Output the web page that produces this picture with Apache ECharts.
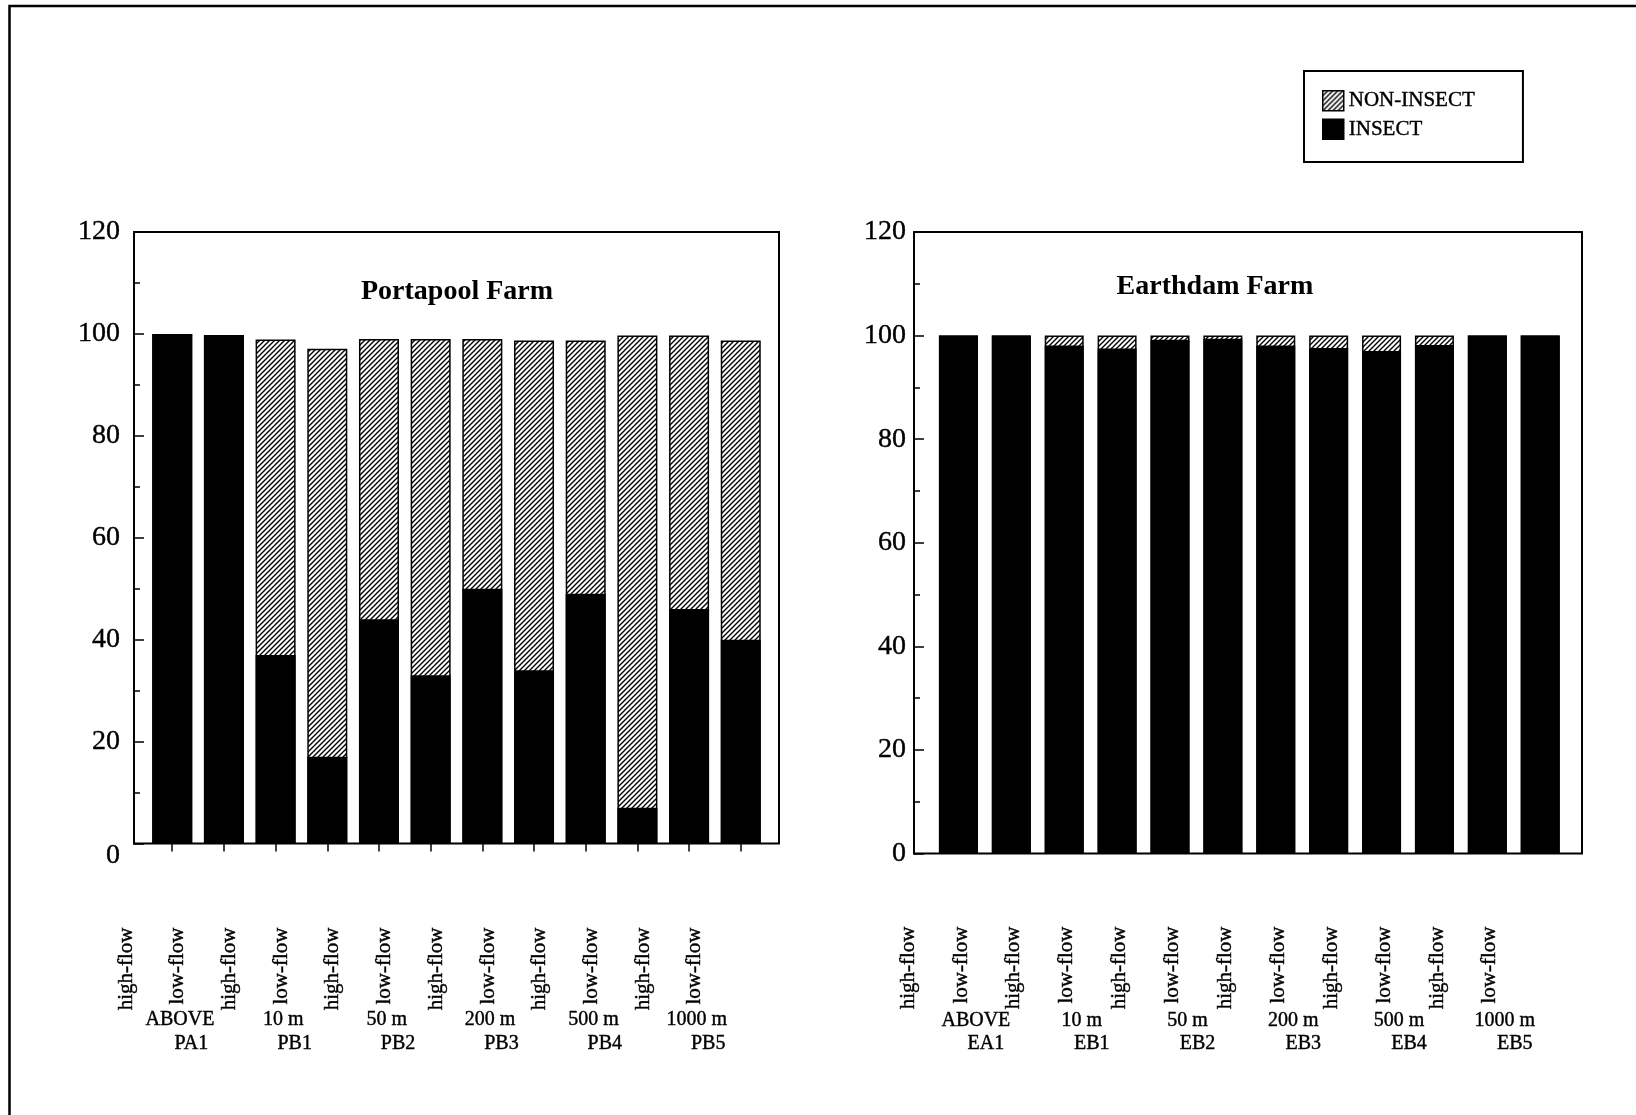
<!DOCTYPE html>
<html>
<head>
<meta charset="utf-8">
<script src="https://cdn.jsdelivr.net/npm/echarts@6/dist/echarts.min.js"></script>
<style>
  html, body { margin: 0; padding: 0; background: #fff; }
  #chart { width: 1636px; height: 1115px; }
</style>
</head>
<body>
<div id="chart"></div>
<script>
// Two flow conditions sampled at each site
const flowLabels = ['high-flow', 'low-flow', 'high-flow', 'low-flow', 'high-flow', 'low-flow',
                    'high-flow', 'low-flow', 'high-flow', 'low-flow', 'high-flow', 'low-flow'];

// Site distances and codes
const portapoolDistances = ['ABOVE', '10 m', '50 m', '200 m', '500 m', '1000 m'];
const portapoolCodes = ['PA1', 'PB1', 'PB2', 'PB3', 'PB4', 'PB5'];
const earthdamDistances = ['ABOVE', '10 m', '50 m', '200 m', '500 m', '1000 m'];
const earthdamCodes = ['EA1', 'EB1', 'EB2', 'EB3', 'EB4', 'EB5'];

// Percentage composition of each sample
const portapoolInsect = [100, 99.8, 37, 17, 44, 33, 50, 34, 49, 7, 46, 40];
const portapoolNonInsect = [0, 0, 61.9, 80.1, 55, 66, 49, 64.7, 49.7, 92.7, 53.7, 58.7];
const earthdamInsect = [100, 100, 98.1, 97.5, 99.2, 99.4, 98.1, 97.6, 97, 98.2, 100, 100];
const earthdamNonInsect = [0, 0, 1.9, 2.5, 0.8, 0.6, 1.9, 2.4, 3.0, 1.8, 0, 0];

// Percent axis
const yMin = 0, yMax = 120, yStep = 20;

const FONT = '"Liberation Serif", "Times New Roman", serif';
const INK = { color: '#000', textBorderColor: '#000', textBorderWidth: 0.4 };

// Diagonal hatch used for the NON-INSECT fraction
function makeHatch() {
  const s = 5;
  const c = document.createElement('canvas');
  c.width = s; c.height = s;
  const g = c.getContext('2d');
  g.fillStyle = '#fff';
  g.fillRect(0, 0, s, s);
  g.strokeStyle = '#000';
  g.lineWidth = 1.4;
  g.beginPath();
  g.moveTo(-1, s + 1); g.lineTo(s + 1, -1);
  g.moveTo(-1, 1); g.lineTo(1, -1);
  g.moveTo(s - 1, s + 1); g.lineTo(s + 1, s - 1);
  g.stroke();
  return { image: c, repeat: 'repeat' };
}
const hatch = makeHatch();

const panels = [
  {
    title: 'Portapool Farm', titleX: 452, titleY: 273,
    left: 134, top: 232, width: 645, height: 611.5,
    xMin: -0.74, xMax: 11.74, barWidth: 40, xTicks: true,
    yLabelMargin: 14, zeroDrop: 12,
    flowOffset: -0.89, flowMargin: 84,
    distOffset: 0.15, distMargin: 166,
    codeOffset: 0.37, codeMargin: 190,
    insect: portapoolInsect, nonInsect: portapoolNonInsect,
    distances: portapoolDistances, codes: portapoolCodes
  },
  {
    title: 'Earthdam Farm', titleX: 1210, titleY: 268,
    left: 914, top: 232, width: 668, height: 621.5,
    xMin: -0.84, xMax: 11.79, barWidth: 39, xTicks: false,
    yLabelMargin: 8, zeroDrop: 0,
    flowOffset: -0.95, flowMargin: 73,
    distOffset: 0.33, distMargin: 157,
    codeOffset: 0.52, codeMargin: 180,
    insect: earthdamInsect, nonInsect: earthdamNonInsect,
    distances: earthdamDistances, codes: earthdamCodes
  }
];

const grid = [], xAxis = [], yAxis = [], series = [], title = [];
const labelText = Object.assign({ fontFamily: FONT, fontSize: 20 }, INK);

panels.forEach((p, k) => {
  const mainGrid = grid.length;
  const unit = p.width / (p.xMax - p.xMin);
  grid.push({
    left: p.left, top: p.top, width: p.width, height: p.height,
    show: true, borderColor: '#000', borderWidth: 2, backgroundColor: 'transparent',
    outerBoundsMode: 'none'
  });
  // wider helper grid for the category text rows, same scale as the bars
  const labelGrid = grid.length;
  grid.push({
    left: p.left - unit, top: p.top, width: p.width + 2 * unit, height: p.height,
    show: false, outerBoundsMode: 'none'
  });

  const idx = p.insect.map((_, i) => i);
  const mainX = xAxis.length;
  xAxis.push({
    type: 'value', gridIndex: mainGrid, position: 'bottom', min: p.xMin, max: p.xMax,
    axisLine: { show: false, onZero: false },
    axisTick: { show: p.xTicks, customValues: idx, length: 8, inside: false,
                lineStyle: { color: '#000', width: 1.5 } },
    axisLabel: { show: false },
    splitLine: { show: false }
  });

  const textAxis = (values, margin, rotate, fmt, size) => ({
    type: 'value', gridIndex: labelGrid, position: 'bottom',
    min: p.xMin - 1, max: p.xMax + 1,
    axisLine: { show: false, onZero: false },
    axisTick: { show: false },
    splitLine: { show: false },
    axisLabel: Object.assign({}, labelText, {
      customValues: values, margin: margin, rotate: rotate, fontSize: size,
      formatter: fmt, hideOverlap: false
    })
  });

  xAxis.push(textAxis(idx.map(i => i + p.flowOffset), p.flowMargin, 90,
    v => flowLabels[Math.round(v - p.flowOffset)], 21));
  xAxis.push(textAxis(p.distances.map((_, j) => 2 * j + p.distOffset), p.distMargin, 0,
    v => p.distances[Math.round((v - p.distOffset) / 2)], 20));
  xAxis.push(textAxis(p.codes.map((_, j) => 2 * j + p.codeOffset), p.codeMargin, 0,
    v => p.codes[Math.round((v - p.codeOffset) / 2)], 20));

  const mainY = yAxis.length;
  yAxis.push({
    type: 'value', gridIndex: mainGrid, min: yMin, max: yMax, interval: yStep,
    axisLine: { show: true, onZero: false, lineStyle: { color: '#000', width: 2 } },
    axisTick: { show: true, inside: true, length: 10, lineStyle: { color: '#000', width: 1.5 } },
    minorTick: { show: true, splitNumber: 2, length: 6, lineStyle: { color: '#000', width: 1.5 } },
    splitLine: { show: false },
    axisLabel: Object.assign({
      fontFamily: FONT, fontSize: 28, margin: p.yLabelMargin,
      formatter: v => (p.zeroDrop && v === 0) ? '{z|0}' : String(v),
      rich: { z: Object.assign({ fontFamily: FONT, fontSize: 28,
                                 padding: [2 * p.zeroDrop, 0, 0, 0] }, INK) }
    }, INK)
  });
  yAxis.push({ type: 'value', gridIndex: labelGrid, show: false, min: 0, max: 1 });

  // Hatched column reaches the sample total; the insect share is drawn over its lower part
  series.push({
    name: 'NON-INSECT', type: 'bar', xAxisIndex: mainX, yAxisIndex: mainY,
    barWidth: p.barWidth, barGap: '-100%',
    itemStyle: { color: hatch, borderColor: '#000', borderWidth: 1.5 },
    data: p.nonInsect.map((v, i) => [i, p.insect[i] + v])
  });
  series.push({
    name: 'INSECT', type: 'bar', xAxisIndex: mainX, yAxisIndex: mainY,
    barWidth: p.barWidth, barGap: '-100%',
    itemStyle: { color: '#000', borderColor: '#000', borderWidth: 0 },
    data: p.insect.map((v, i) => [i, v])
  });

  title.push({
    text: p.title, left: p.titleX, top: p.titleY, textAlign: 'center',
    textStyle: { fontFamily: FONT, fontSize: 28, fontWeight: 'bold', color: '#000' }
  });
});

const chart = echarts.init(document.getElementById('chart'), null, { renderer: 'canvas' });
chart.setOption({
  animation: false,
  backgroundColor: '#fff',
  title: title,
  legend: {
    orient: 'vertical', left: 1304, top: 71,
    padding: [19, 48, 22, 18],
    itemWidth: 21, itemHeight: 20, itemGap: 7,
    borderColor: '#000', borderWidth: 2,
    icon: 'rect', selectedMode: false,
    textStyle: Object.assign({ fontFamily: FONT, fontSize: 21 }, INK),
    itemStyle: { borderColor: '#000', borderWidth: 1.5 },
    data: ['NON-INSECT', 'INSECT']
  },
  grid: grid,
  xAxis: xAxis,
  yAxis: yAxis,
  series: series,
  graphic: [{
    type: 'polyline', silent: true,
    shape: { points: [[9.5, 1115], [9.5, 6], [1636, 6]] },
    style: { stroke: '#000', lineWidth: 2.5, fill: null }
  }]
});
</script>
</body>
</html>
